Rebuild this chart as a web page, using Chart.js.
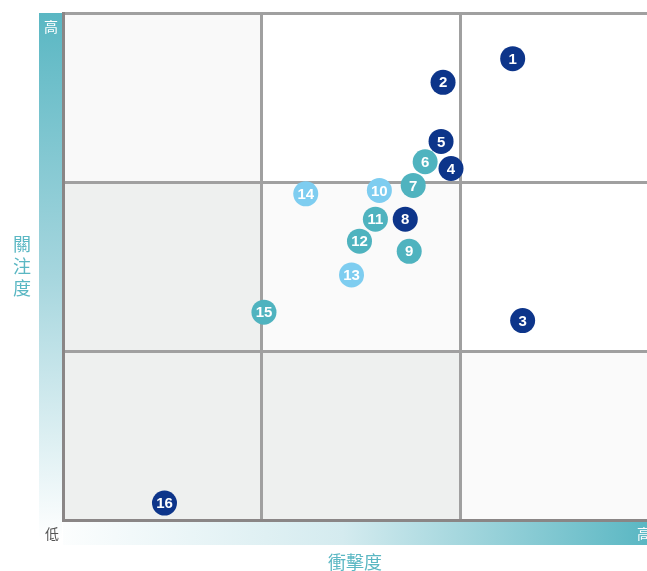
<!DOCTYPE html>
<html>
<head>
<meta charset="utf-8">
<script src="https://cdn.jsdelivr.net/npm/chart.js@4"></script>
<style>
  html, body { margin: 0; padding: 0; background: #fff; }
  #wrap { width: 647px; height: 571px; position: relative; }
</style>
</head>
<body>
<div id="wrap"><canvas id="riskChart"></canvas></div>
<script>
// issue numbers and their position (impact on x, attention on y, scale 0-3)
const ids = [1, 2, 3, 4, 5, 6, 7, 8, 9, 10, 11, 12, 13, 14, 15, 16];
const impact = [2.26, 1.91, 2.31, 1.95, 1.90, 1.82, 1.76, 1.72, 1.74, 1.59, 1.57, 1.49, 1.45, 1.22, 1.01, 0.51];
const attention = [2.73, 2.59, 1.18, 2.08, 2.24, 2.12, 1.98, 1.78, 1.59, 1.95, 1.78, 1.65, 1.45, 1.93, 1.23, 0.10];
const groups = ["dark", "dark", "dark", "dark", "dark", "teal", "teal", "dark", "teal", "light", "teal", "teal", "light", "light", "teal", "dark"];
const groupColors = { dark: "#0d358a", teal: "#4fb3bf", light: "#7ecdf0" };
const yLabel = "關注度";
const xLabel = "衝擊度";

// cell shading, row 0 = top
const cellFill = [
	["#f9f9f9", "#ffffff", "#ffffff"],
	["#eef0ef", "#fafafa", "#ffffff"],
	["#eef0ef", "#eef0ef", "#fafafa"],
];

const backdrop = {
	id: "backdrop",
	beforeDraw(chart) {
		const { ctx, chartArea: a, scales: { x, y } } = chart;
		ctx.save();
		for (let r = 0; r < 3; r++) {
			for (let c = 0; c < 3; c++) {
				const x0 = x.getPixelForValue(c);
				const x1 = x.getPixelForValue(c + 1);
				const y0 = y.getPixelForValue(3 - r);
				const y1 = y.getPixelForValue(2 - r);
				ctx.fillStyle = cellFill[r][c];
				ctx.fillRect(x0, y0, x1 - x0, y1 - y0);
			}
		}
		// vertical bar on the left
		let g = ctx.createLinearGradient(0, a.top, 0, a.bottom + 20);
		g.addColorStop(0, "#5ab7c3");
		g.addColorStop(0.5, "#a6d6de");
		g.addColorStop(1, "#ffffff");
		ctx.fillStyle = g;
		ctx.fillRect(a.left - 24, a.top, 23, a.bottom - a.top + 25);
		// horizontal bar at the bottom
		g = ctx.createLinearGradient(a.left - 24, 0, a.right, 0);
		g.addColorStop(0, "#ffffff");
		g.addColorStop(0.5, "#d4ebef");
		g.addColorStop(1, "#5ab7c3");
		ctx.fillStyle = g;
		ctx.fillRect(a.left, a.bottom + 1, a.right - a.left, 24);
		ctx.restore();
	},
	afterDraw(chart) {
		const { ctx, chartArea: a } = chart;
		ctx.save();
		ctx.textAlign = "center";
		ctx.textBaseline = "middle";
		ctx.font = "14px 'Noto Sans CJK TC'";
		ctx.fillStyle = "#ffffff";
		ctx.fillText("高", a.left - 12, a.top + 14);
		ctx.fillText("高", a.right - 3, a.bottom + 14);
		ctx.fillStyle = "#555555";
		ctx.fillText("低", a.left - 11, a.bottom + 14);
		ctx.font = "18px 'Noto Sans CJK TC'";
		ctx.fillStyle = "#5ab7c3";
		const mid = (a.top + a.bottom) / 2;
		[...yLabel].forEach((ch, i) => ctx.fillText(ch, 22, mid + (i - 1) * 22));
		ctx.fillText(xLabel, (a.left + a.right) / 2, a.bottom + 42);
		ctx.restore();
	},
};

const numberLabels = {
	id: "numberLabels",
	afterDatasetsDraw(chart) {
		const { ctx } = chart;
		const meta = chart.getDatasetMeta(0);
		ctx.save();
		ctx.fillStyle = "#ffffff";
		ctx.font = "bold 15px 'Liberation Sans'";
		ctx.textAlign = "center";
		ctx.textBaseline = "middle";
		meta.data.forEach((pt, i) => {
			ctx.fillText(String(ids[i]), pt.x, pt.y + 1);
		});
		ctx.restore();
	},
};

new Chart(document.getElementById("riskChart"), {
	type: "scatter",
	data: {
		datasets: [
			{
				data: ids.map((id, i) => ({ x: impact[i], y: attention[i] })),
				pointBackgroundColor: groups.map((g) => groupColors[g]),
				pointBorderWidth: 0,
				pointRadius: 12.5,
				pointHoverRadius: 12.5,
			},
		],
	},
	options: {
		responsive: true,
		maintainAspectRatio: false,
		animation: false,
		layout: {
			autoPadding: false,
			padding: { left: 63, top: 13, bottom: 51, right: 0 },
		},
		scales: {
			x: {
				type: "linear",
				min: 0,
				max: 2.935,
				ticks: { display: false, stepSize: 1, includeBounds: false },
				grid: { color: "#a0a0a0", lineWidth: 3, drawTicks: false },
				border: { display: true, color: "#8a8686", width: 3 },
			},
			y: {
				type: "linear",
				min: 0,
				max: 3,
				ticks: { display: false, stepSize: 1 },
				grid: { color: "#a0a0a0", lineWidth: 3, drawTicks: false },
				border: { display: true, color: "#8a8686", width: 3 },
			},
		},
		plugins: {
			legend: { display: false },
			tooltip: { enabled: false },
		},
	},
	plugins: [backdrop, numberLabels],
});
</script>
</body>
</html>
